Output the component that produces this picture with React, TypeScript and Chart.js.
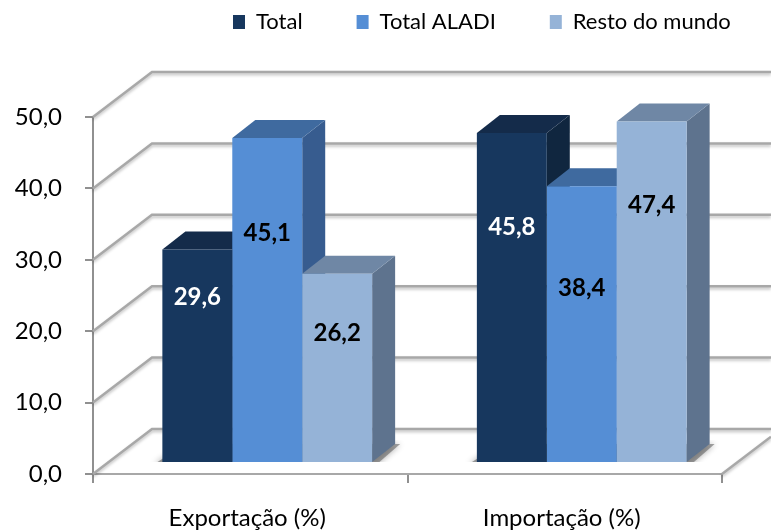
import React, { useEffect, useRef } from "react";
import { Chart, registerables } from "chart.js";

Chart.register(...registerables);

const categories = ["Exportação (%)", "Importação (%)"];
const seriesNames = ["Total", "Total ALADI", "Resto do mundo"];
const total = [29.6, 45.8];
const totalAladi = [45.1, 38.4];
const restoDoMundo = [26.2, 47.4];
const yTicks = [0, 10, 20, 30, 40, 50];

const frontColors = ["#17375E", "#558ED5", "#95B3D7"];
const topColors = ["#142B4A", "#3F6A9F", "#6F87A5"];
const sideColors = ["#10263F", "#375C8F", "#5E738E"];
const labelColors = ["#FFFFFF", "#000000", "#000000"];
// how far below each bar's top its label sits, in pixels
const labelDrops = [[48, 94], [95, 102], [59, 84]];

const FONT = "Lato, Carlito, 'Open Sans', sans-serif";
const GRID = "#A8A8A8";
const WALL = { x: 59, y: -45 };
const BAR_DEPTH = { x: 23, y: -18 };
const BAR_SHIFT = { x: 17, y: -12 };

function poly(ctx: CanvasRenderingContext2D, pts: number[][], fill: string) {
  ctx.beginPath();
  pts.forEach((p, i) => (i ? ctx.lineTo(p[0], p[1]) : ctx.moveTo(p[0], p[1])));
  ctx.closePath();
  ctx.fillStyle = fill;
  ctx.fill();
}

const legendPlace = {
  id: "legendPlace",
  afterLayout(chart: any) {
    const l = chart.legend;
    const pad = l.options.labels.padding;
    l.left = 233 - pad;
    l.right = 1000;
    l.top = 11 - pad;
  },
};

const wallGrid = {
  id: "wallGrid",
  beforeDatasetsDraw(chart: any) {
    const { ctx, chartArea: a, scales } = chart;
    const w = chart.width;
    ctx.save();
    ctx.strokeStyle = GRID;
    ctx.lineWidth = 2.5;
    ctx.shadowColor = "rgba(0,0,0,0.25)";
    ctx.shadowBlur = 3;
    ctx.shadowOffsetY = 2;
    yTicks.forEach((v) => {
      const y = scales.y.getPixelForValue(v);
      ctx.beginPath();
      ctx.moveTo(a.left, y);
      ctx.lineTo(a.left + WALL.x, y + WALL.y);
      ctx.lineTo(w, y + WALL.y);
      ctx.stroke();
    });
    ctx.beginPath();
    ctx.moveTo(a.right, a.bottom);
    ctx.lineTo(w, a.bottom + ((w - a.right) * WALL.y) / WALL.x);
    ctx.stroke();
    ctx.restore();
  },
};

const bar3d = {
  id: "bar3d",
  beforeDatasetsDraw(chart: any) {
    const { ctx } = chart;
    ctx.save();
    ctx.translate(BAR_SHIFT.x, BAR_SHIFT.y);
    const d = BAR_DEPTH;
    categories.forEach((_, j) => {
      const first = chart.getDatasetMeta(0).data[j];
      const last = chart.getDatasetMeta(2).data[j];
      const l = first.x - first.width / 2;
      const r = last.x + last.width / 2;
      const b = first.base;
      // soft floor shadow round the foot of the group, cut off at the front edge
      ctx.save();
      ctx.beginPath();
      ctx.rect(l - 40, b + d.y - 4, r - l + 100, -d.y + 4);
      ctx.clip();
      ctx.shadowColor = "rgba(0,0,0,0.6)";
      ctx.shadowBlur = 6;
      poly(ctx, [[l - 8, b + 2], [r + 5, b + 2], [r + d.x + 5, b + d.y], [l + d.x, b + d.y]], "rgba(90,90,90,0.55)");
      ctx.restore();
      seriesNames.forEach((__, i) => {
        const el = chart.getDatasetMeta(i).data[j];
        const x0 = el.x - el.width / 2;
        const x1 = el.x + el.width / 2;
        poly(ctx, [[x1, el.y], [x1 + d.x, el.y + d.y], [x1 + d.x, el.base + d.y], [x1, el.base]], sideColors[i]);
        poly(ctx, [[x0, el.y], [x0 + d.x, el.y + d.y], [x1 + d.x, el.y + d.y], [x1, el.y]], topColors[i]);
      });
    });
  },
  afterDatasetsDraw(chart: any) {
    const { ctx } = chart;
    ctx.font = `bold 24px ${FONT}`;
    ctx.textAlign = "center";
    ctx.textBaseline = "middle";
    seriesNames.forEach((_, i) => {
      const values = chart.data.datasets[i].data;
      chart.getDatasetMeta(i).data.forEach((el: any, j: number) => {
        ctx.fillStyle = labelColors[i];
        ctx.fillText(values[j].toFixed(1).replace(".", ","), el.x, el.y + labelDrops[i][j]);
      });
    });
    ctx.restore();
  },
};

export default function App() {
  const ref = useRef<HTMLCanvasElement>(null);
  useEffect(() => {
    if (!ref.current) return;
    const seriesValues = [total, totalAladi, restoDoMundo];
    const chart = new Chart(ref.current, {
      type: "bar",
      data: {
        labels: categories,
        datasets: seriesNames.map((name, i) => ({
          label: name,
          data: seriesValues[i],
          backgroundColor: frontColors[i],
          borderWidth: 0,
          yAxisID: "yBars",
          clip: false as any,
          categoryPercentage: 0.667,
          barPercentage: 1,
        })),
      },
      options: {
        animation: false,
        responsive: false,
        devicePixelRatio: 1,
        layout: { padding: { top: 87, right: 49, left: 0, bottom: 0 } },
        plugins: {
          tooltip: { enabled: false },
          legend: {
            display: true,
            position: "top",
            align: "start",
            maxHeight: 30,
            labels: {
              boxWidth: 12,
              boxHeight: 14,
              padding: 54,
              color: "#000000",
              font: { family: FONT, size: 22 },
            },
          },
        },
        scales: {
          x: {
            offset: true,
            afterFit: (s: any) => { s.height = 57; },
            border: { display: true, color: GRID, width: 2 },
            grid: { display: true, offset: true, drawOnChartArea: false, drawTicks: true, tickLength: 9, color: "#909090", lineWidth: 2 },
            ticks: { color: "#000000", padding: 21, labelOffset: -3, maxRotation: 0, font: { family: FONT, size: 24 } },
          },
          y: {
            min: 0,
            max: 50,
            afterFit: (s: any) => { s.width = 93; },
            afterBuildTicks: (s: any) => { s.ticks = yTicks.map((value) => ({ value })); },
            border: { display: true, color: "#909090", width: 2 },
            grid: { display: true, drawOnChartArea: false, drawTicks: true, tickLength: 8, color: "#909090", lineWidth: 2 },
            ticks: {
              color: "#000000",
              padding: 23,
              font: { family: FONT, size: 24 },
              callback: (v: any) => Number(v).toFixed(1).replace(".", ","),
            },
          },
          yBars: { display: false, min: 0, max: 49.7, position: "left" },
        },
      },
      plugins: [legendPlace, wallGrid, bar3d],
    });
    return () => chart.destroy();
  }, []);
  return (
    <div style={{ position: "fixed", left: 0, top: 0, width: 771, height: 531, overflow: "hidden", background: "#fff" }}>
      <canvas ref={ref} width={771} height={531} style={{ display: "block" }} />
    </div>
  );
}
